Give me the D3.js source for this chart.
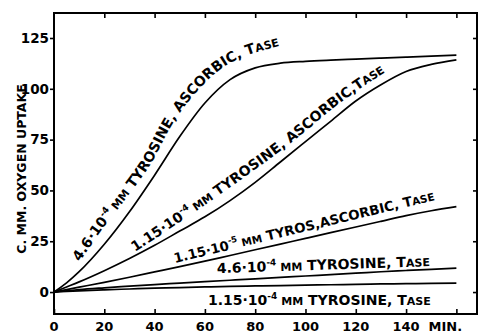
<!DOCTYPE html>
<html lang="en">
<head>
<meta charset="UTF-8">
<title>Oxygen uptake</title>
<script src="https://cdn.jsdelivr.net/npm/d3@7"></script>
<style>
  body { margin: 0; background: #fff; }
  svg { display: block; font-family: "DejaVu Sans", sans-serif; font-weight: bold; }
</style>
</head>
<body>
<div id="chart"></div>
<script>
// time in minutes and the five uptake curves (c.mm. O2)
const minutes   = [0, 5, 10, 20, 30, 40, 50, 60, 70, 80, 90, 100, 110, 120, 130, 140, 150, 160]
const tyr46asc  = [0, 4.5, 10, 23.5, 39.5, 57.5, 76.5, 93, 104.5, 110.3, 112.6, 113.5, 114.1, 114.6, 115.1, 115.6, 116.1, 116.6]
const tyr115asc = [0, 2.5, 5, 10.5, 16.5, 23, 30, 37, 45, 54, 64, 74, 84, 94, 102, 108.5, 112, 114.2]
const tyr5asc   = [0, 1.2, 2.4, 4.8, 7.3, 9.9, 12.5, 15.2, 18, 20.8, 23.6, 26.4, 29.2, 32, 34.8, 37.6, 40, 42]
const tyr46     = [0, 0.6, 1.2, 2.1, 2.9, 3.7, 4.4, 5.1, 5.8, 6.5, 7.2, 7.9, 8.6, 9.3, 10, 10.6, 11.2, 11.8]
const tyr115    = [0, 0.3, 0.6, 1.1, 1.5, 1.9, 2.2, 2.5, 2.8, 3, 3.2, 3.4, 3.6, 3.8, 4, 4.1, 4.3, 4.4]

const xTicks = [0, 20, 40, 60, 80, 100, 120, 140, 160]
const yTicks = [0, 25, 50, 75, 100, 125]
const yTitle = "C. MM. OXYGEN UPTAKE"

// curve labels: baseline points in (min, c.mm.) and text pieces
const label1Path = [[10.3, 14.8], [18.3, 29.5], [28.2, 45.3], [38.2, 62.5], [48.1, 84.6], [58.1, 100.4], [68, 111.2], [77.1, 116.6], [88.2, 120.6], [95, 122.5]]
const label2Path = [[32.2, 19.7], [62, 44.5], [93.8, 73], [113.7, 93], [130.8, 107.5], [141.5, 115]]
const label3Path = [[48.1, 14.3], [158, 47.2]]
const label4Path = [[64.8, 9.3], [158, 13.1]]
const label5Path = [[61.2, -6.4], [158, -6.4]]
const label1Text = [["4.6·10", ""], ["-4", "sup"], [" MM", "sm"], [" TYROSINE, ASCORBIC, T", ""], ["ASE", "sm"]]
const label2Text = [["1.15·10", ""], ["-4", "sup"], ["  MM", "sm"], [" TYROSINE, ASCORBIC,T", ""], ["ASE", "sm"]]
const label3Text = [["1.15·10", ""], ["-5", "sup"], [" MM", "sm"], [" TYROS,ASCORBIC, T", ""], ["ASE", "sm"]]
const label4Text = [["4.6·10", ""], ["-4", "sup"], ["  MM", "sm"], ["  TYROSINE, T", ""], ["ASE", "sm"]]
const label5Text = [["1.15·10", ""], ["-4", "sup"], ["  MM", "sm"], ["  TYROSINE, T", ""], ["ASE", "sm"]]
const labelSizes = [14, 14, 13.3, 14, 14]

const w = 480, h = 332
const padL = 54, padR = 477, padT = 13, padB = 314

const svg = d3.select("#chart").append("svg").attr("width", w).attr("height", h)

const x = d3.scaleLinear().domain([0, 168.2]).range([padL, padR])
const y = d3.scaleLinear().domain([-10.8, 137.3]).range([padB, padT])

// frame
svg.append("rect")
  .attr("x", padL).attr("y", padT)
  .attr("width", padR - padL).attr("height", padB - padT)
  .attr("fill", "none").attr("stroke", "#000").attr("stroke-width", 2)

// left axis, ticks outward
const yAxis = svg.append("g").attr("transform", `translate(${padL},0)`)
  .call(d3.axisLeft(y).tickValues(yTicks).tickSize(4).tickPadding(1))
yAxis.select(".domain").remove()
yAxis.selectAll("text").attr("font-size", 13.5).attr("font-family", "DejaVu Sans").attr("font-weight", "bold").attr("fill", "#000")
yAxis.selectAll("line").attr("stroke-width", 1.6)

// right side ticks, inward
const yRight = svg.append("g").attr("transform", `translate(${padR},0)`)
  .call(d3.axisLeft(y).tickValues(yTicks).tickSize(4).tickFormat(""))
yRight.select(".domain").remove()
yRight.selectAll("line").attr("stroke-width", 1.6)

// bottom axis
const xAxis = svg.append("g").attr("transform", `translate(0,${padB})`)
  .call(d3.axisTop(x).tickValues(xTicks).tickSize(5).tickFormat(""))
xAxis.select(".domain").remove()
xAxis.selectAll("line").attr("stroke-width", 1.6)
svg.append("g").selectAll("text")
  .data(xTicks)
  .join("text")
  .attr("x", d => x(d) + (d === 160 ? -11 : 0))
  .attr("y", 331)
  .attr("text-anchor", "middle")
  .attr("font-size", 13)
  .text(d => d === 160 ? "MIN." : d)

// top ticks, inward
const xTop = svg.append("g").attr("transform", `translate(0,${padT})`)
  .call(d3.axisBottom(x).tickValues(xTicks.filter(d => d > 0)).tickSize(5).tickFormat(""))
xTop.select(".domain").remove()
xTop.selectAll("line").attr("stroke-width", 1.6)

// y title
svg.append("text")
  .attr("transform", `translate(26,${(72 + 266) / 2}) rotate(-90)`)
  .attr("text-anchor", "middle")
  .attr("font-size", 12.5)
  .text(yTitle)

// curves
const series = [tyr46asc, tyr115asc, tyr5asc, tyr46, tyr115]
const line = d3.line()
  .x(d => x(d[0]))
  .y(d => y(d[1]))
  .curve(d3.curveMonotoneX)

svg.append("g").selectAll("path")
  .data(series)
  .join("path")
  .attr("d", s => line(minutes.map((m, i) => [m, s[i]])))
  .attr("fill", "none")
  .attr("stroke", "#000")
  .attr("stroke-width", 1.7)

// labels along paths
const labelLine = d3.line().x(d => x(d[0])).y(d => y(d[1])).curve(d3.curveCatmullRom)
const labels = [
  [label1Path, label1Text],
  [label2Path, label2Text],
  [label3Path, label3Text],
  [label4Path, label4Text],
  [label5Path, label5Text]
]
const defs = svg.append("defs")
labels.forEach(([pts, parts], i) => {
  const fs = labelSizes[i]
  defs.append("path").attr("id", "lab" + i).attr("d", labelLine(pts))
  const tp = svg.append("text")
    .attr("font-size", fs)
    .append("textPath")
    .attr("href", "#lab" + i)
  parts.forEach(([t, kind], j) => {
    const prev = j > 0 ? parts[j - 1][1] : ""
    const ts = tp.append("tspan").text(t)
    if (kind === "sup") ts.attr("font-size", fs * 0.64).attr("dy", -6)
    else if (kind === "sm") ts.attr("font-size", fs * 0.79)
    if (prev === "sup") ts.attr("dy", 6)
  })
})
</script>
</body>
</html>
